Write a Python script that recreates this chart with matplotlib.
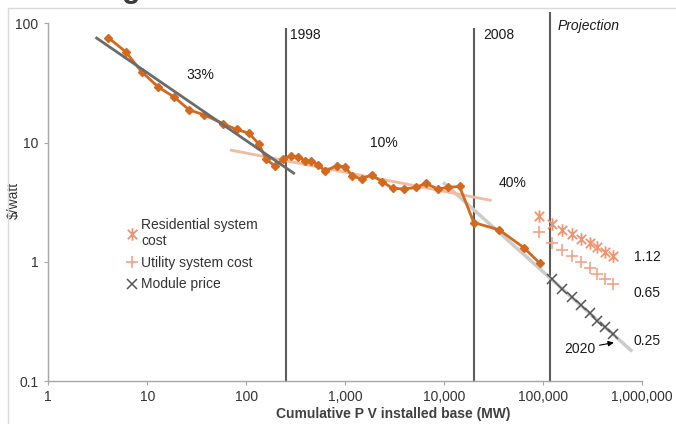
import matplotlib
matplotlib.use("Agg")
import matplotlib.pyplot as plt
from matplotlib.path import Path
from matplotlib.patches import Rectangle

plt.rcParams['font.family'] = ['Liberation Sans', 'DejaVu Sans']

# ---------------- data ----------------
hist_mw = [4.04, 6.05, 8.78, 12.9, 18.7, 26.6, 37.6, 58.6, 80.0, 107, 134, 160, 195,
           237, 281, 335, 392, 453, 534, 623, 819, 993, 1183, 1465, 1849, 2377, 3013,
           3890, 5176, 6534, 8590, 10965, 14320, 19950, 35970, 63830, 92680]
hist_price = [75.8, 57.8, 39.3, 29.3, 24.1, 18.8, 17.1, 14.4, 12.9, 12.0, 9.75, 7.23, 6.38,
              7.26, 7.74, 7.59, 7.07, 7.03, 6.51, 5.79, 6.38, 6.30, 5.26, 4.97, 5.37, 4.69, 4.15,
              4.09, 4.21, 4.57, 4.09, 4.21, 4.30, 2.14, 1.86, 1.32, 0.977]

trend33_mw = [3.0, 310]
trend33_price = [76.4, 5.47]
trend10_mw = [68.5, 30300]
trend10_price = [8.69, 3.27]
trend40_mw = [9772, 796000]
trend40_price = [4.65, 0.178]

proj_mw = [91200, 123300, 156300, 195000, 242000, 295000, 354000, 425000, 506000]
residential = [2.41, 2.07, 1.86, 1.71, 1.56, 1.44, 1.33, 1.22, 1.13]
utility = [1.77, 1.45, 1.27, 1.12, 1.00, 0.887, 0.80, 0.725, 0.66]
module_mw = proj_mw[1:]
module = [0.722, 0.597, 0.507, 0.433, 0.371, 0.321, 0.286, 0.25]

year_lines_mw = [250, 20000]
year_labels = ['1998', '2008']
projection_mw = 117000

x_ticks = [1, 10, 100, 1000, 10000, 100000, 1000000]
x_ticklabels = ['1', '10', '100', '1,000', '10,000', '100,000', '1,000,000']
y_ticks = [0.1, 1, 10, 100]
y_ticklabels = ['0.1', '1', '10', '100']

# ---------------- styles ----------------
ORANGE = '#D2691F'
DARK = '#6B6B6B'
SALMON_TREND = '#F2BBA0'
LIGHT_GREY = '#CCCCCC'
VLINE = '#5C5C5C'
RES_C = '#F09470'
UTIL_C = '#F4A286'
MOD_C = '#555555'

star = Path([(0, -1), (0, 1), (-0.75, -0.75), (0.75, 0.75), (-0.75, 0.75), (0.75, -0.75)],
            [Path.MOVETO, Path.LINETO, Path.MOVETO, Path.LINETO, Path.MOVETO, Path.LINETO])

fig = plt.figure(figsize=(6.76, 4.24), dpi=100)
ax = fig.add_axes([0.0714, 0.1007, 0.8783, 0.8443])

# frame of the slide area
fig.patches.append(Rectangle((8 / 676, -0.1), 1.0, 1.0 - 8 / 424 + 0.1, transform=fig.transFigure,
                             fill=False, edgecolor='#DADADA', lw=1.0))
fig.text(131 / 676, 1 + 3 / 424, 'g', ha='center', va='baseline', fontsize=22,
         fontweight='bold', color='#3A3A3A')

ax.set_xscale('log')
ax.set_yscale('log')
ax.set_xlim(1, 1e6)
ax.set_ylim(0.1, 100)

# vertical reference lines
for xm in year_lines_mw:
    ax.plot([xm, xm], [0.1, 89.6], color=VLINE, lw=1.5, zorder=2)
ax.plot([projection_mw, projection_mw], [0.1, 122], color=VLINE, lw=1.5, zorder=2, clip_on=False)

# trend lines
ax.plot(trend40_mw, trend40_price, color=LIGHT_GREY, lw=2.5, zorder=3, solid_capstyle='butt')
ax.plot(trend10_mw, trend10_price, color=SALMON_TREND, lw=2.0, zorder=3, solid_capstyle='butt')

# historical series
ax.plot(hist_mw, hist_price, color=ORANGE, lw=2.0, marker='D', ms=4.5, mec=ORANGE, mfc=ORANGE, zorder=4)
ax.plot(trend33_mw, trend33_price, color=DARK, lw=2.0, zorder=5, solid_capstyle='butt')

# projections
ax.plot(proj_mw, residential, ls='none', marker=star, ms=9, mec=RES_C, mew=1.3, color=RES_C,
        zorder=6, label='Residential system\ncost')
ax.plot(proj_mw, utility, ls='none', marker='+', ms=9, mec=UTIL_C, mew=1.2, color=UTIL_C,
        zorder=6, label='Utility system cost')
ax.plot(module_mw, module, ls='none', marker='x', ms=7, mec=MOD_C, mew=1.1, color=MOD_C,
        zorder=6, label='Module price')

# annotations
TXT = '#1A1A1A'
ax.text(34.1, 36.9, '33%', ha='center', va='center', fontsize=10, color=TXT)
ax.text(2477, 9.88, '10%', ha='center', va='center', fontsize=10, color=TXT)
ax.text(49770, 4.62, '40%', ha='center', va='center', fontsize=10, color=TXT)
for xm, lab in zip([276, 24600], year_labels):
    ax.text(xm, 79.8, lab, ha='left', va='center', fontsize=10, color=TXT)
ax.text(140600, 94.9, 'Projection', ha='left', va='center', fontsize=10, style='italic', color=TXT,
        clip_on=False)
for yv, lab in zip([1.10, 0.551, 0.218], ['1.12', '0.65', '0.25']):
    ax.text(824000, yv, lab, ha='left', va='center', fontsize=10, color=TXT, clip_on=False)
ax.annotate('2020', xy=(518000, 0.211), xytext=(235000, 0.187), ha='center', va='center',
            fontsize=10, color=TXT,
            arrowprops=dict(arrowstyle='-|>', color='black', lw=0.8, shrinkA=1, shrinkB=0,
                            mutation_scale=8))

# axes styling
for s in ['top', 'right']:
    ax.spines[s].set_visible(False)
for s in ['left', 'bottom']:
    ax.spines[s].set_color('#A6A6A6')
    ax.spines[s].set_linewidth(1.0)
ax.set_xticks(x_ticks)
ax.set_xticklabels(x_ticklabels)
ax.set_yticks(y_ticks)
ax.set_yticklabels(y_ticklabels)
ax.minorticks_off()
ax.tick_params(axis='both', which='major', length=3, color='#A6A6A6', labelsize=10,
               labelcolor='#333333')
ax.tick_params(axis='x', pad=3)
ax.tick_params(axis='y', pad=4)

ax.set_xlabel('Cumulative P V installed base (MW)', fontsize=10, fontweight='bold', color='#404040')
ax.xaxis.set_label_coords(0.581, -0.073)
ax.set_ylabel(r'\$/watt', fontsize=10, color='#333333')
ax.yaxis.set_label_coords(-0.047, 0.506)

leg = ax.legend(loc='upper left', bbox_to_anchor=(126 / 676, 1 - 218 / 424),
                bbox_transform=fig.transFigure, frameon=False, fontsize=10,
                handlelength=0.8, handletextpad=0.3, borderpad=0, borderaxespad=0,
                labelspacing=0.55, labelcolor='#333333')

fig.savefig('out.png', dpi=100)
